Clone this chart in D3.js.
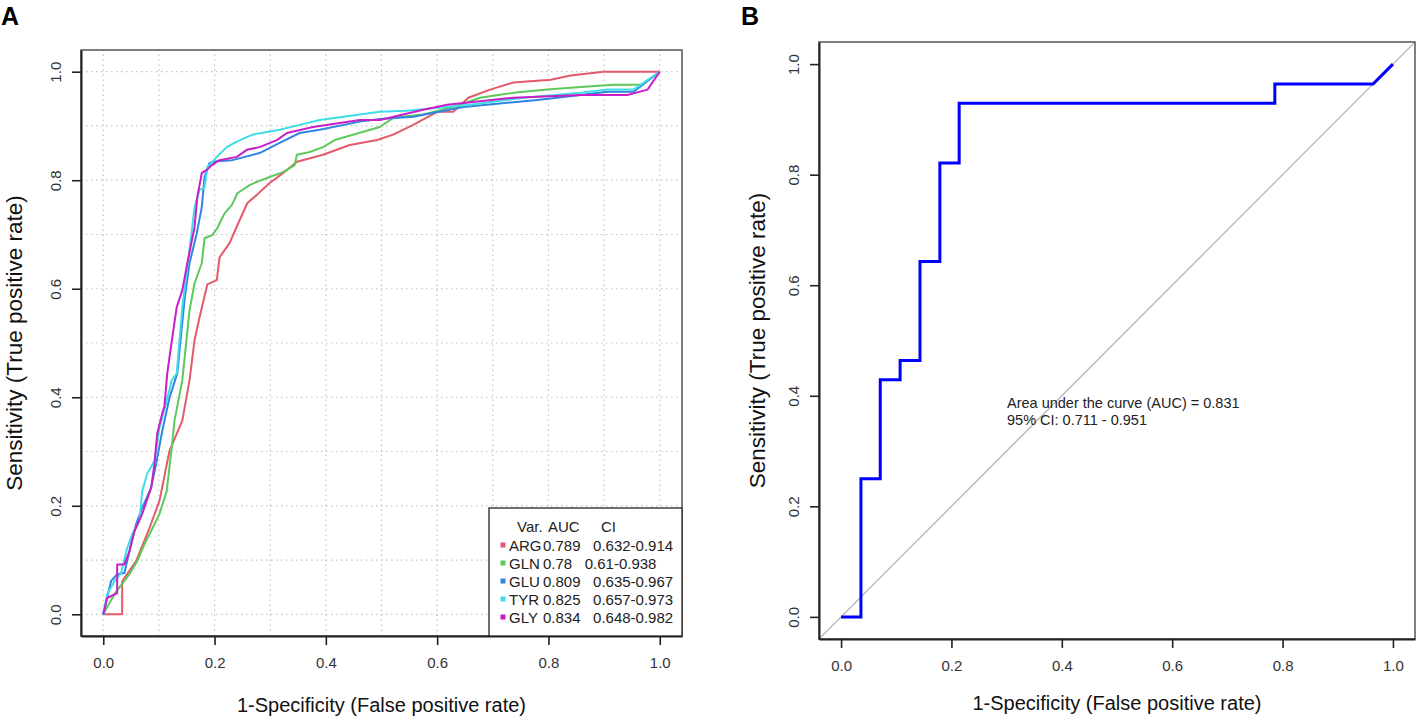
<!DOCTYPE html>
<html>
<head>
<meta charset="utf-8">
<script src="https://cdn.jsdelivr.net/npm/d3@7"></script>
<style>
  body { margin: 0; background: #fff; }
  svg { font-family: "Liberation Sans", Arial, sans-serif; }
</style>
</head>
<body>
<svg id="chart" width="1417" height="720"></svg>
<script>
// axis ticks / grid
const tickVals = [0, 0.2, 0.4, 0.6, 0.8, 1.0]
const gridVals = [0, 0.1, 0.2, 0.3, 0.4, 0.5, 0.6, 0.7, 0.8, 0.9, 1.0]

// panel A legend
const varNames = ['ARG', 'GLN', 'GLU', 'TYR', 'GLY']
const aucVals = ['0.789', '0.78', '0.809', '0.825', '0.834']
const ciVals = ['0.632-0.914', '0.61-0.938', '0.635-0.967', '0.657-0.973', '0.648-0.982']

// panel A curves, [fpr, tpr]
const argRoc = [[0, 0], [0.034, 0], [0.034, 0.061], [0.059, 0.098], [0.083, 0.159], [0.101, 0.209],
  [0.119, 0.301], [0.142, 0.357], [0.155, 0.431], [0.164, 0.505], [0.173, 0.547], [0.187, 0.608],
  [0.204, 0.616], [0.209, 0.658], [0.227, 0.684], [0.241, 0.717], [0.259, 0.758], [0.276, 0.773],
  [0.299, 0.795], [0.323, 0.813], [0.348, 0.834], [0.395, 0.847], [0.443, 0.865], [0.492, 0.874],
  [0.521, 0.884], [0.557, 0.902], [0.600, 0.926], [0.629, 0.926], [0.656, 0.952], [0.695, 0.967],
  [0.737, 0.980], [0.804, 0.985], [0.840, 0.993], [0.899, 1.0], [1, 1]]
const glnRoc = [[0, 0], [0.020, 0.037], [0.047, 0.074], [0.061, 0.098], [0.074, 0.129], [0.092, 0.166],
  [0.101, 0.185], [0.114, 0.227], [0.123, 0.307], [0.128, 0.357], [0.142, 0.431], [0.155, 0.560],
  [0.164, 0.610], [0.177, 0.647], [0.182, 0.693], [0.196, 0.699], [0.205, 0.712], [0.218, 0.739],
  [0.231, 0.754], [0.241, 0.776], [0.263, 0.791], [0.276, 0.797], [0.299, 0.806], [0.323, 0.815],
  [0.344, 0.828], [0.348, 0.847], [0.371, 0.852], [0.395, 0.861], [0.416, 0.874], [0.497, 0.898],
  [0.521, 0.915], [0.575, 0.921], [0.629, 0.935], [0.677, 0.952], [0.737, 0.961], [0.798, 0.967],
  [0.858, 0.972], [0.917, 0.976], [0.966, 0.976], [1, 1]]
const gluRoc = [[0, 0], [0.014, 0.061], [0.025, 0.074], [0.038, 0.076], [0.050, 0.129], [0.059, 0.166],
  [0.070, 0.196], [0.086, 0.233], [0.095, 0.277], [0.106, 0.338], [0.119, 0.399], [0.133, 0.444],
  [0.146, 0.579], [0.155, 0.647], [0.168, 0.702], [0.177, 0.750], [0.182, 0.806], [0.191, 0.832],
  [0.204, 0.835], [0.232, 0.837], [0.281, 0.850], [0.317, 0.869], [0.353, 0.887], [0.389, 0.893],
  [0.461, 0.908], [0.497, 0.913], [0.557, 0.917], [0.647, 0.935], [0.780, 0.948], [0.858, 0.957],
  [0.906, 0.963], [0.953, 0.963], [1, 1]]
const tyrRoc = [[0, 0], [0.007, 0.037], [0.020, 0.061], [0.032, 0.076], [0.043, 0.122], [0.052, 0.148],
  [0.065, 0.172], [0.070, 0.227], [0.079, 0.259], [0.092, 0.283], [0.101, 0.344], [0.114, 0.394],
  [0.123, 0.431], [0.132, 0.444], [0.142, 0.566], [0.155, 0.671], [0.164, 0.750], [0.173, 0.782],
  [0.182, 0.787], [0.187, 0.824], [0.204, 0.843], [0.222, 0.861], [0.240, 0.871], [0.268, 0.884],
  [0.317, 0.893], [0.353, 0.902], [0.389, 0.911], [0.461, 0.921], [0.497, 0.926], [0.546, 0.928],
  [0.659, 0.939], [0.755, 0.952], [0.858, 0.961], [0.906, 0.967], [0.953, 0.967], [1, 1]]
const glyRoc = [[0, 0], [0.007, 0.030], [0.025, 0.039], [0.025, 0.092], [0.038, 0.092], [0.047, 0.116],
  [0.056, 0.153], [0.070, 0.185], [0.086, 0.233], [0.092, 0.277], [0.097, 0.333], [0.106, 0.370],
  [0.110, 0.384], [0.115, 0.444], [0.124, 0.510], [0.132, 0.566], [0.142, 0.597], [0.151, 0.647],
  [0.164, 0.713], [0.169, 0.769], [0.177, 0.813], [0.186, 0.819], [0.195, 0.828], [0.209, 0.837],
  [0.240, 0.843], [0.258, 0.856], [0.281, 0.861], [0.312, 0.874], [0.330, 0.887], [0.377, 0.898],
  [0.461, 0.911], [0.497, 0.911], [0.575, 0.930], [0.618, 0.939], [0.737, 0.952], [0.858, 0.957],
  [0.942, 0.957], [0.978, 0.967], [1, 1]]

// panel B curve
const rocFpr = [0, 0.036, 0.036, 0.071, 0.071, 0.107, 0.107, 0.143, 0.143, 0.179, 0.179, 0.214, 0.214, 0.786, 0.786, 0.964, 1]
const rocTpr = [0, 0, 0.25, 0.25, 0.429, 0.429, 0.464, 0.464, 0.643, 0.643, 0.821, 0.821, 0.929, 0.929, 0.964, 0.964, 1]
const aucLines = ['Area under the curve (AUC) = 0.831', '95% CI: 0.711 - 0.951']

const xTitle = '1-Specificity (False positive rate)'
const yTitle = 'Sensitivity (True positive rate)'
const lineColors = ['#e35a6b', '#5dc95b', '#2f86e0', '#3fdde8', '#c81fc8']
const FONT = '"Liberation Sans", Arial, sans-serif'

const svg = d3.select('#chart')

const xA = d3.scaleLinear().domain([-0.04, 1.04]).range([81, 682])
const yA = d3.scaleLinear().domain([-0.04, 1.04]).range([636, 50])
const xB = d3.scaleLinear().domain([-0.04, 1.04]).range([819, 1415])
const yB = d3.scaleLinear().domain([-0.04, 1.04]).range([639, 42])

const drawFrame = (x, y, opts) => {
  const [x0, x1] = x.range()
  const [y0, y1] = y.range()

  svg.append('rect')
    .attr('x', x0).attr('y', y1)
    .attr('width', x1 - x0).attr('height', y0 - y1)
    .attr('fill', 'none')
    .attr('stroke', '#555')
    .attr('stroke-width', 1.5)

  const gx = svg.append('g')
    .attr('transform', `translate(0,${y0})`)
    .call(d3.axisBottom(x).tickValues(tickVals).tickFormat(d3.format('.1f'))
      .tickSizeOuter(0).tickSizeInner(9).tickPadding(12))
    .attr('font-family', FONT)
    .attr('font-size', 15)
  gx.select('.domain').attr('stroke', '#222').attr('stroke-width', 2)
  gx.selectAll('.tick line').attr('stroke', '#222').attr('stroke-width', 1.6)
  gx.selectAll('.tick text').attr('fill', '#333')

  const gy = svg.append('g')
    .attr('transform', `translate(${x0},0)`)
    .call(d3.axisLeft(y).tickValues(tickVals).tickFormat(d3.format('.1f'))
      .tickSizeOuter(0).tickSizeInner(9))
    .attr('font-family', FONT)
    .attr('font-size', 15)
  gy.select('.domain').attr('stroke', '#222').attr('stroke-width', 2)
  gy.selectAll('.tick line').attr('stroke', '#222').attr('stroke-width', 1.6)
  gy.selectAll('.tick text')
    .attr('fill', '#333')
    .attr('transform', 'rotate(-90)')
    .attr('x', 0)
    .attr('y', -20)
    .attr('dy', null)
    .attr('text-anchor', 'middle')

  svg.append('text')
    .attr('x', (x0 + x1) / 2)
    .attr('y', opts.xTitleY)
    .attr('text-anchor', 'middle')
    .attr('font-size', 20)
    .attr('fill', '#111')
    .text(xTitle)

  svg.append('text')
    .attr('transform', `translate(${opts.yTitleX},${(y0 + y1) / 2}) rotate(-90)`)
    .attr('text-anchor', 'middle')
    .attr('font-size', 22.5)
    .attr('fill', '#111')
    .text(yTitle)

  svg.append('text')
    .attr('x', opts.labelX)
    .attr('y', 25)
    .attr('font-size', 25)
    .attr('font-weight', 'bold')
    .attr('fill', '#000')
    .text(opts.label)
}

// ---- panel A ----
const gridA = svg.append('g')
gridA.selectAll('line.gv')
  .data(gridVals)
  .enter()
  .append('line')
  .attr('x1', (d) => xA(d)).attr('x2', (d) => xA(d))
  .attr('y1', yA.range()[0]).attr('y2', yA.range()[1])
gridA.selectAll('line.gh')
  .data(gridVals)
  .enter()
  .append('line')
  .attr('class', 'gh')
  .attr('x1', xA.range()[0]).attr('x2', xA.range()[1])
  .attr('y1', (d) => yA(d)).attr('y2', (d) => yA(d))
gridA.selectAll('line')
  .attr('stroke', '#c4c4c4')
  .attr('stroke-width', 1.2)
  .attr('stroke-dasharray', '1.5,3.5')

const lineA = d3.line().x((d) => xA(d[0])).y((d) => yA(d[1]))
svg.append('g')
  .selectAll('path')
  .data([argRoc, glnRoc, gluRoc, tyrRoc, glyRoc])
  .enter()
  .append('path')
  .attr('d', lineA)
  .attr('fill', 'none')
  .attr('stroke', (d, i) => lineColors[i])
  .attr('stroke-width', 2)
  .attr('stroke-linejoin', 'round')

drawFrame(xA, yA, { xTitleY: 712, yTitleX: 22, label: 'A', labelX: 1 })

// legend
const leg = svg.append('g').attr('font-size', 15).attr('fill', '#222')
leg.append('rect')
  .attr('x', 489).attr('y', 508)
  .attr('width', 193).attr('height', 128)
  .attr('fill', '#fff')
  .attr('stroke', '#222')
  .attr('stroke-width', 1.3)
leg.append('text').attr('x', 517).attr('y', 532).text('Var.')
leg.append('text').attr('x', 548).attr('y', 532).text('AUC')
leg.append('text').attr('x', 601).attr('y', 532).text('CI')

const rows = leg.selectAll('g.row')
  .data(varNames)
  .enter()
  .append('g')
  .attr('transform', (d, i) => `translate(0,${550.5 + i * 18})`)
rows.append('rect')
  .attr('x', 500.5).attr('y', -8)
  .attr('width', 5).attr('height', 5)
  .attr('fill', (d, i) => lineColors[i])
rows.append('text').attr('x', 509).text((d) => d)
rows.append('text')
  .attr('x', 543)
  .attr('xml:space', 'preserve')
  .style('white-space', 'pre')
  .text((d, i) => `${aucVals[i]}   ${ciVals[i]}`)

// ---- panel B ----
svg.append('line')
  .attr('x1', xB(-0.04)).attr('y1', yB(-0.04))
  .attr('x2', xB(1.04)).attr('y2', yB(1.04))
  .attr('stroke', '#bdbdbd')
  .attr('stroke-width', 1.5)

svg.append('path')
  .datum(rocFpr.map((f, i) => [f, rocTpr[i]]))
  .attr('d', d3.line().x((d) => xB(d[0])).y((d) => yB(d[1])))
  .attr('fill', 'none')
  .attr('stroke', '#0000ff')
  .attr('stroke-width', 3)

drawFrame(xB, yB, { xTitleY: 710, yTitleX: 765, label: 'B', labelX: 741 })

svg.append('g')
  .selectAll('text')
  .data(aucLines)
  .enter()
  .append('text')
  .attr('x', 1007)
  .attr('y', (d, i) => 408 + i * 17)
  .attr('font-size', 14.5)
  .attr('fill', '#222')
  .text((d) => d)
</script>
</body>
</html>
